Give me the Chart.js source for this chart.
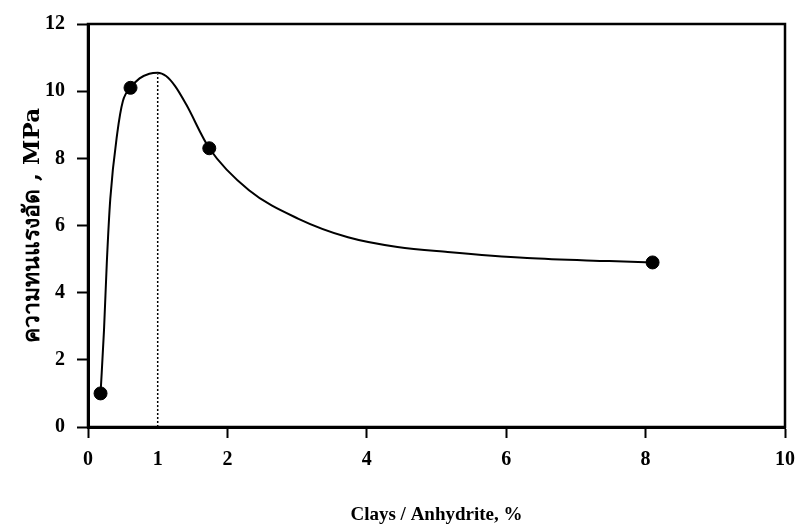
<!DOCTYPE html>
<html>
<head>
<meta charset="utf-8">
<script src="https://cdn.jsdelivr.net/npm/chart.js@4.4.0/dist/chart.umd.min.js"></script>
<style>
  html, body { margin: 0; padding: 0; background: #fff; }
  #wrap { width: 805px; height: 531px; }
</style>
</head>
<body>
<div id="wrap"><canvas id="chart" width="805" height="531"></canvas></div>
<script>
// measured points (Clays / Anhydrite %, strength MPa)
const pointX = [0.18, 0.61, 1.74, 8.1];
const pointY = [1.0, 10.1, 8.3, 4.9];

// smoothed trend curve
const curveX = [0.18, 0.23, 0.27, 0.32, 0.42, 0.50, 0.61, 0.74, 0.88, 1.0, 1.12, 1.25, 1.41, 1.74, 2.31, 3.02, 3.73, 4.44, 5.16, 6.30, 7.48, 8.1];
const curveY = [1.0, 2.9, 4.9, 6.8, 8.75, 9.7, 10.1, 10.38, 10.52, 10.55, 10.45, 10.15, 9.6, 8.3, 7.05, 6.2, 5.65, 5.36, 5.21, 5.03, 4.94, 4.9];

// dotted marker at the optimum ratio
const dropX = [1, 1];
const dropY = [0, 10.5];

const xTicks = [0, 1, 2, 4, 6, 8, 10];
const yTicks = [0, 2, 4, 6, 8, 10, 12];

const zip = (xs, ys) => xs.map((x, i) => ({ x: x, y: ys[i] }));

const serif = 'Liberation Serif, Times New Roman, serif';

const frame = {
  id: 'frame',
  afterDatasetsDraw(chart) {
    const a = chart.chartArea;
    const ctx = chart.ctx;
    ctx.save();
    ctx.strokeStyle = '#000';
    ctx.lineWidth = 2.5;
    ctx.strokeRect(a.left, a.top, a.right - a.left, a.bottom - a.top);
    ctx.restore();
  }
};

new Chart(document.getElementById('chart'), {
  type: 'scatter',
  plugins: [frame],
  data: {
    datasets: [
      {
        data: zip(pointX, pointY),
        backgroundColor: '#000',
        borderColor: '#000',
        pointRadius: 6.5,
        showLine: false,
        order: 0,
      },
      {
        data: zip(curveX, curveY),
        borderColor: '#000',
        borderWidth: 2,
        pointRadius: 0,
        showLine: true,
        cubicInterpolationMode: 'monotone',
        order: 1,
      },
      {
        data: zip(dropX, dropY),
        borderColor: '#000',
        borderWidth: 1.5,
        borderDash: [2, 2],
        pointRadius: 0,
        showLine: true,
        order: 2,
      },
    ],
  },
  options: {
    responsive: false,
    animation: false,
    layout: {
      padding: { top: 13, right: 17, left: 0, bottom: 0 },
    },
    plugins: {
      legend: { display: false },
      tooltip: { enabled: false },
    },
    scales: {
      x: {
        type: 'linear',
        min: 0,
        max: 10,
        afterBuildTicks: (s) => { s.ticks = xTicks.map(v => ({ value: v })); },
        afterFit: (s) => { s.height = 104; },
        ticks: {
          color: '#000',
          padding: 10,
          maxRotation: 0,
          font: { family: serif, size: 20, weight: 'bold' },
        },
        grid: {
          drawOnChartArea: false,
          tickLength: 11,
          tickWidth: 2,
          tickColor: (c) => (c.tick && c.tick.value === 1 ? 'rgba(0,0,0,0)' : '#000'),
        },
        border: { color: '#000', width: 3 },
        title: {
          display: true,
          text: 'Clays / Anhydrite, %',
          color: '#000',
          padding: { top: 0, bottom: 5 },
          font: { family: serif, size: 19, weight: 'bold' },
        },
      },
      y: {
        min: 0,
        max: 12,
        afterBuildTicks: (s) => { s.ticks = yTicks.map(v => ({ value: v })); },
        afterFit: (s) => { s.width = 88; },
        ticks: {
          color: '#000',
          padding: 12,
          font: { family: serif, size: 20, weight: 'bold' },
        },
        grid: {
          drawOnChartArea: false,
          tickLength: 11,
          tickWidth: 2,
          tickColor: '#000',
        },
        border: { color: '#000', width: 3 },
        title: {
          display: true,
          text: 'ความทนแรงอัด , MPa',
          color: '#000',
          padding: { top: 19, bottom: 0 },
          font: { family: 'DejaVu Serif, serif', size: 23, weight: 'bold' },
        },
      },
    },
  },
});
</script>
</body>
</html>
